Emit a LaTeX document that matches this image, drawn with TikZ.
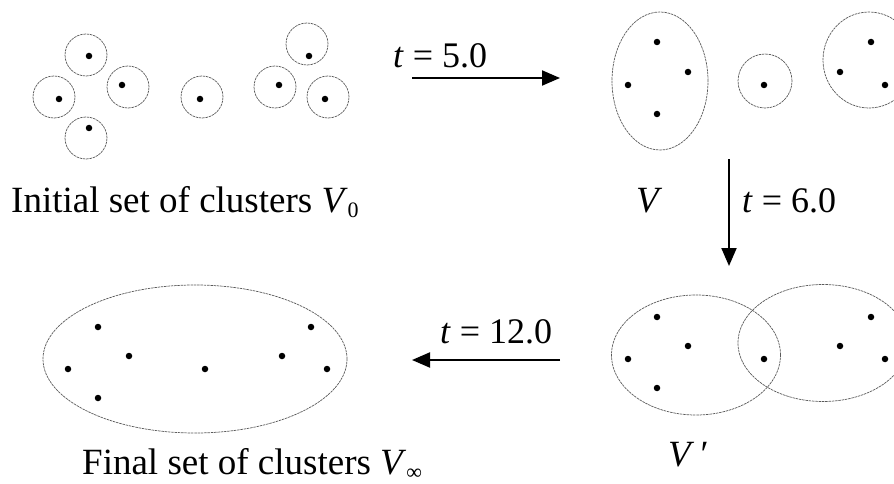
\documentclass[tikz,border=0pt]{standalone}
\usepackage{fontspec}
\setmainfont{Liberation Serif}
\usetikzlibrary{shapes.geometric,arrows.meta}
\begin{document}
\begin{tikzpicture}[x=1pt,y=-1pt,
 pt/.style={circle,fill=black,inner sep=0,minimum size=6.5pt},
 clu/.style={ellipse,draw=black!65,line width=0.7pt,dash pattern=on 2.5pt off 0.8pt,inner sep=0},
 ring/.style={clu,minimum width=42pt,minimum height=42pt},
 arr/.style={line width=2pt,-{Triangle[length=18pt,width=15pt]}},
 captext/.style={font=\fontsize{37}{40}\selectfont,inner sep=0,anchor=base west},
 lab/.style={font=\fontsize{36}{38}\selectfont,inner sep=0,anchor=base west}]
\useasboundingbox (0,0) rectangle (894,484);
% ---- initial clusters
\node[ring] (c1) at (86,55) {};
\node[ring] (c2) at (54,97) {};
\node[ring] (c3) at (128,87) {};
\node[ring] (c4) at (86,138) {};
\node[ring] (c5) at (202,97) {};
\node[ring] (c6) at (307,44) {};
\node[ring] (c7) at (275,87) {};
\node[ring] (c8) at (328,97) {};
\node[pt] (p1) at (89,56) {};
\node[pt] (p2) at (59,99) {};
\node[pt] (p3) at (122,85) {};
\node[pt] (p4) at (89,128) {};
\node[pt] (p5) at (200,99) {};
\node[pt] (p6) at (309,56) {};
\node[pt] (p7) at (279,85) {};
\node[pt] (p8) at (325,99) {};
\node[captext] (l0) at (11,212) {Initial set of clusters \textit{V}\raisebox{-0.35ex}{\fontsize{22}{24}\selectfont 0}};
% ---- V
\node[clu,minimum width=96pt,minimum height=138pt] (e1) at (660,81) {};
\node[clu,minimum width=54pt,minimum height=54pt] (e2) at (765,81) {};
\node[clu,minimum width=92pt,minimum height=96pt] (e3) at (869,60) {};
\node[pt] (q1) at (657,42) {};
\node[pt] (q2) at (688,72) {};
\node[pt] (q3) at (628,85) {};
\node[pt] (q4) at (657,114) {};
\node[pt] (q5) at (764,85) {};
\node[pt] (q6) at (871,42) {};
\node[pt] (q7) at (840,72) {};
\node[pt] (q8) at (885,85) {};
\node[captext] (lv) at (636,212) {\textit{V}};
% ---- V'
\node[clu,minimum width=169pt,minimum height=120pt] (f1) at (696,355) {};
\node[clu,minimum width=170pt,minimum height=117pt] (f2) at (823,343) {};
\node[pt] (r1) at (657,317) {};
\node[pt] (r2) at (688,346) {};
\node[pt] (r3) at (628,359) {};
\node[pt] (r4) at (657,388) {};
\node[pt] (r5) at (764,359) {};
\node[pt] (r6) at (840,346) {};
\node[pt] (r7) at (871,317) {};
\node[pt] (r8) at (885,359) {};
\node[captext] (lvp) at (668,466) {\textit{V}\,′};
% ---- final
\node[clu,minimum width=304pt,minimum height=148pt] (g1) at (195,359) {};
\node[pt] (s1) at (98,327) {};
\node[pt] (s2) at (129,356) {};
\node[pt] (s3) at (68,369) {};
\node[pt] (s4) at (205,369) {};
\node[pt] (s5) at (282,356) {};
\node[pt] (s6) at (311,327) {};
\node[pt] (s7) at (327,369) {};
\node[pt] (s8) at (98,398) {};
\node[captext] (lf) at (82,474) {Final set of clusters \textit{V}\raisebox{-0.35ex}{\fontsize{22}{24}\selectfont ∞}};
% ---- arrows
\coordinate (a1s) at (412,78);
\coordinate (a1e) at (560,78);
\coordinate (a2s) at (729,159);
\coordinate (a2e) at (729,266);
\coordinate (a3s) at (560,360);
\coordinate (a3e) at (412,360);
\draw[arr] (a1s) -- (a1e);
\draw[arr] (a2s) -- (a2e);
\draw[arr] (a3s) -- (a3e);
\node[lab] (t1) at (393,68) {\textit{t} = 5.0};
\node[lab] (t2) at (742,212) {\textit{t} = 6.0};
\node[lab] (t3) at (440,343) {\textit{t} = 12.0};
\end{tikzpicture}
\end{document}
